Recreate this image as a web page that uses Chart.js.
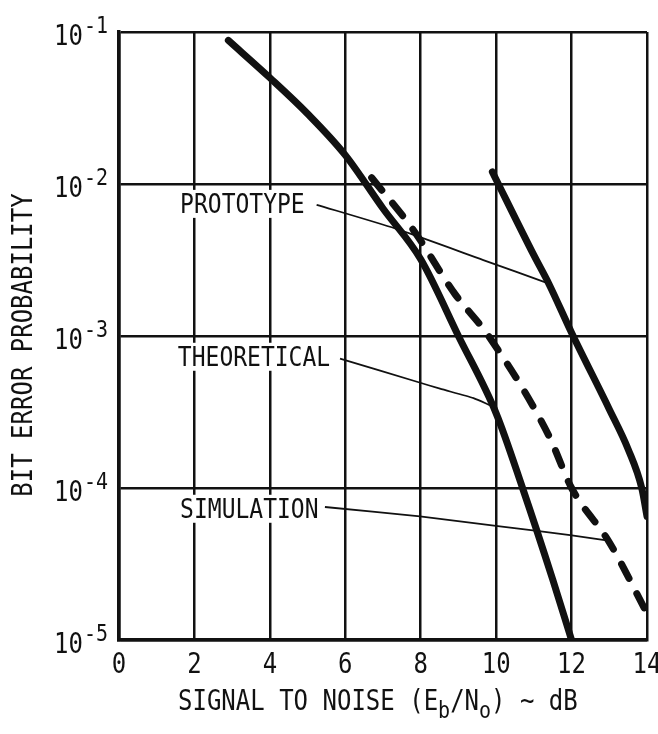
<!DOCTYPE html>
<html lang="en">
<head>
    <meta charset="UTF-8">
    <title>Bit Error Probability</title>
    <script src="https://cdn.jsdelivr.net/npm/chart.js"></script>
    <style>
        body { margin: 0; background: #fff; }
        canvas { display: block; }
    </style>
</head>
<body>
    <canvas id="berChart" width="658" height="734"></canvas>

    <script>
        // values (x in dB, y = bit error probability)
        const theoX = [2.9, 4, 5, 6, 7, 8, 9, 10, 10.7, 11.5, 12];
        const theoY = [0.088, 0.05, 0.029, 0.0155, 0.0069, 0.0032, 1.0e-3, 3.1e-4, 1.0e-4, 2.5e-5, 1.0e-5];

        const protoX = [9.9, 11, 11.4, 12, 13, 13.5, 13.86, 14];
        const protoY = [0.012, 3.4e-3, 2.2e-3, 1.05e-3, 3.3e-4, 1.8e-4, 1.0e-4, 6.5e-5];

        const simX = [6.7, 7.8, 8.9, 9.8, 11.4, 12, 13, 14];
        const simY = [0.011, 5.0e-3, 1.9e-3, 1.0e-3, 2.2e-4, 1.0e-4, 4.4e-5, 1.5e-5];

        // leader lines from the labels to the curves
        const protoLeadX = [5.24, 7.32, 9.66, 11.38];
        const protoLeadY = [7.3e-3, 5.1e-3, 3.16e-3, 2.22e-3];
        const theoLeadX = [5.86, 7.9, 8.51, 9.4, 9.84];
        const theoLeadY = [7.1e-4, 5.0e-4, 4.5e-4, 3.9e-4, 3.5e-4];
        const simLeadX = [5.46, 7.98, 10.1, 11.96, 12.97];
        const simLeadY = [7.5e-5, 6.5e-5, 5.6e-5, 4.9e-5, 4.5e-5];

        // label text and where it starts
        const labelNames = ['PROTOTYPE', 'THEORETICAL', 'SIMULATION'];
        const labelX = [1.62, 1.56, 1.62];
        const labelY = [7.4e-3, 7.3e-4, 7.3e-5];

        const xTicks = [0, 2, 4, 6, 8, 10, 12, 14];
        const yTicks = [1e-5, 1e-4, 1e-3, 1e-2, 1e-1];
        const yTickExp = ['-5', '-4', '-3', '-2', '-1'];

        const INK = '#111';
        const FONT = '"DejaVu Sans Mono", monospace';

        function pts(xs, ys) {
            return xs.map((x, i) => ({ x: x, y: ys[i] }));
        }

        // draw lettering slightly stretched vertically, like the original stencil
        function letter(ctx, str, x, y, size, align) {
            ctx.save();
            ctx.translate(x, y);
            ctx.scale(1, 1.15);
            ctx.font = size + 'px ' + FONT;
            ctx.textAlign = align || 'left';
            ctx.textBaseline = 'alphabetic';
            ctx.fillStyle = INK;
            ctx.fillText(str, 0, 0);
            ctx.restore();
        }

        const lettering = {
            id: 'lettering',
            beforeDatasetsDraw(chart) {
                // curve labels sit on a white patch that breaks the grid
                const ctx = chart.ctx;
                const xs = chart.scales.x, ys = chart.scales.y;
                ctx.save();
                ctx.font = '23px ' + FONT;
                labelNames.forEach((name, i) => {
                    const px = xs.getPixelForValue(labelX[i]);
                    const py = ys.getPixelForValue(labelY[i]);
                    const w = ctx.measureText(name).width;
                    ctx.fillStyle = '#fff';
                    ctx.fillRect(px - 3, py - 14, w + 6, 28);
                    letter(ctx, name, px, py + 9, 23, 'left');
                });
                ctx.restore();
            },
            afterDraw(chart) {
                const ctx = chart.ctx;
                const xs = chart.scales.x, ys = chart.scales.y;

                // y tick labels: 10 with exponent
                yTicks.forEach((v, i) => {
                    const py = ys.getPixelForValue(v);
                    letter(ctx, '10', 83, py + 13, 24, 'right');
                    letter(ctx, yTickExp[i], 84, py + 1, 20, 'left');
                });

                // x tick labels
                xTicks.forEach(v => {
                    letter(ctx, String(v), xs.getPixelForValue(v), 673, 24, 'center');
                });

                // x axis title with subscripts
                ctx.save();
                const parts = [
                    ['SIGNAL TO NOISE (E', 24, 0],
                    ['b', 20, 8],
                    ['/N', 24, 0],
                    ['o', 20, 8],
                    [') ~ dB', 24, 0]
                ];
                let cx = 178;
                parts.forEach(p => {
                    ctx.font = p[1] + 'px ' + FONT;
                    const w = ctx.measureText(p[0]).width;
                    letter(ctx, p[0], cx, 710 + p[2], p[1], 'left');
                    cx += w;
                });
                ctx.restore();

                // y axis title, rotated
                ctx.save();
                ctx.translate(32, (ys.top + ys.bottom) / 2 + 9);
                ctx.rotate(-Math.PI / 2);
                letter(ctx, 'BIT ERROR PROBABILITY', 0, 0, 24, 'center');
                ctx.restore();
            }
        };

        const ctx = document.getElementById('berChart').getContext('2d');

        const curve = {
            borderColor: INK,
            borderWidth: 7,
            pointRadius: 0,
            cubicInterpolationMode: 'monotone',
            borderCapStyle: 'round',
            fill: false
        };
        const leader = {
            borderColor: INK,
            borderWidth: 1.8,
            pointRadius: 0,
            tension: 0.2,
            fill: false
        };

        new Chart(ctx, {
            type: 'line',
            data: {
                datasets: [
                    Object.assign({ label: 'Theoretical', data: pts(theoX, theoY) }, curve),
                    Object.assign({ label: 'Prototype', data: pts(protoX, protoY) }, curve),
                    Object.assign({ label: 'Simulation', data: pts(simX, simY), borderDash: [16, 17] }, curve),
                    Object.assign({ label: 'prototype leader', data: pts(protoLeadX, protoLeadY) }, leader),
                    Object.assign({ label: 'theoretical leader', data: pts(theoLeadX, theoLeadY) }, leader),
                    Object.assign({ label: 'simulation leader', data: pts(simLeadX, simLeadY) }, leader)
                ]
            },
            options: {
                responsive: false,
                animation: false,
                devicePixelRatio: 1,
                layout: { padding: { left: 119, right: 11, top: 32, bottom: 94 } },
                plugins: {
                    legend: { display: false },
                    tooltip: { enabled: false }
                },
                scales: {
                    x: {
                        type: 'linear',
                        min: 0,
                        max: 14,
                        ticks: { display: false, stepSize: 2 },
                        grid: { color: INK, lineWidth: 2.5, drawTicks: false },
                        border: { color: INK, width: 3.5 }
                    },
                    y: {
                        type: 'logarithmic',
                        min: 1e-5,
                        max: 1e-1,
                        afterBuildTicks: scale => {
                            scale.ticks = yTicks.map(v => ({ value: v }));
                        },
                        ticks: { display: false },
                        grid: { color: INK, lineWidth: 2.5, drawTicks: false },
                        border: { color: INK, width: 3.5 }
                    }
                }
            },
            plugins: [lettering]
        });
    </script>
</body>
</html>
